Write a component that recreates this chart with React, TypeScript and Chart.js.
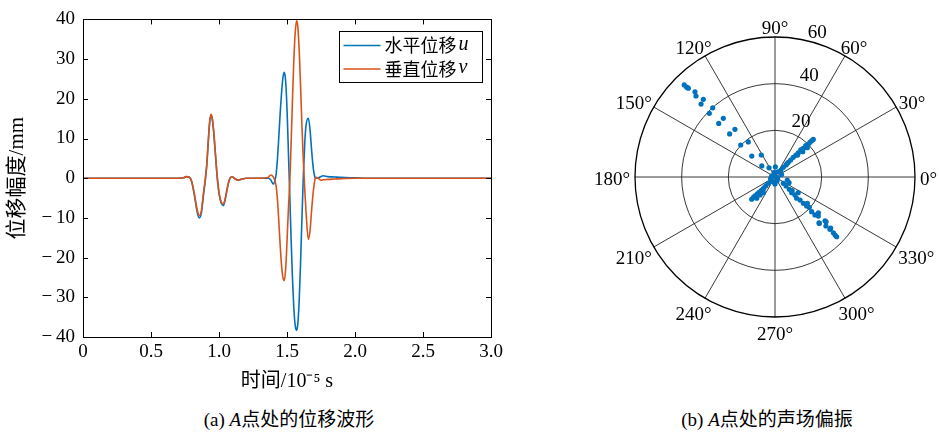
import React, { useEffect, useRef } from "react";
import { Chart, registerables } from "chart.js";
Chart.register(...registerables);

// ---------- data: left panel (displacement waveforms) ----------
const timeValues = [
  0, 0.5, 0.7, 0.74, 0.76, 0.78, 0.8, 0.82, 0.84, 0.855, 0.87, 0.885, 0.9, 0.91, 0.92, 0.93, 0.941, 0.95, 0.96,
  0.97, 0.98, 0.99, 1.0, 1.015, 1.032, 1.045, 1.06, 1.075, 1.09, 1.1, 1.12, 1.14, 1.16, 1.2, 1.3, 1.36, 1.38,
  1.4, 1.41, 1.42, 1.43, 1.44, 1.45, 1.46, 1.47, 1.48, 1.49, 1.5, 1.51, 1.52, 1.53, 1.54, 1.55, 1.56, 1.571,
  1.58, 1.59, 1.6, 1.61, 1.62, 1.63, 1.64, 1.657, 1.67, 1.68, 1.69, 1.7, 1.71, 1.73, 1.75, 1.765, 1.8, 1.85,
  1.9, 2.0, 2.1, 3.0,
];
const horizontalU = [
  0, 0, 0, 0.1, 0.4, 0.3, -1.0, -4.5, -8.6, -10.0, -8.8, -4.5, -0.3, 3.2, 8.5, 13.5, 16.0, 15.0, 12.0,
  7.6, 3.0, -1.0, -3.8, -6.2, -6.9, -5.5, -2.8, -0.5, 0.3, 0.3, -0.2, -0.5, -0.3, 0, 0, 0.0, -0.4,
  -1.5, -0.8, 1.0, 5.0, 10.5, 16.5, 21.5, 25.3, 26.7, 24.5, 17.5, 7.0, -4.0, -15.0, -25.0, -32.5, -37.0, -38.3,
  -36.5, -30.5, -21.0, -10.0, 0.5, 8.5, 13.3, 15.1, 12.0, 7.5, 3.5, 1.0, 0.0, 0.1, 0.4, 0.6, 0.4, 0.3,
  0.2, 0.1, 0, 0,
];
const verticalV = [
  0, 0, 0, 0.1, 0.4, 0.3, -0.9, -4.2, -8.0, -9.4, -8.3, -4.0, 0.1, 3.5, 8.8, 13.7, 16.1, 15.2, 12.3,
  8.0, 3.4, -0.6, -3.5, -5.9, -6.5, -5.2, -2.6, -0.5, 0.3, 0.3, -0.2, -0.5, -0.3, 0, 0, 0.2, 0.8,
  0.3, -0.5, -2.0, -5.5, -11.0, -17.0, -22.0, -25.0, -25.8, -23.0, -16.0, -8.0, -1.5, 8.5, 19.5, 29.5, 36.5, 39.7,
  38.0, 32.0, 23.0, 13.0, 4.5, -2.5, -8.5, -15.4, -13.0, -8.5, -4.5, -1.5, 0.2, 0.0, -0.5, -0.4, -0.3, -0.2,
  -0.1, 0, 0, 0,
];
const xTickValues = [0, 0.5, 1.0, 1.5, 2.0, 2.5, 3.0];
const yTickValues = [-40, -30, -20, -10, 0, 10, 20, 30, 40];
const seriesNames = ["水平位移", "垂直位移"];
const seriesSymbols = ["u", "v"];

// ---------- data: right panel (polarization, polar scatter) ----------
const polarAnglesDeg = [
  134.6, 134.5, 134.3, 133.2, 134.3, 132.7, 135.4, 132.0, 135.9, 131.4, 136.4, 130.0, 136.5, 127.3, 137.0, 121.9, 138.0, 140.0, 123.0, 88.0,
  44.5, 44.7, 44.8, 44.7, 45.6, 45.4, 46.4, 46.2, 46.3, 47.1, 47.3, 47.9, 47.5, 49.4, 49.4, 42.2, 42.4, 44.1, 48.1,
  -44.1, -44.0, -43.7, -42.6, -43.6, -43.9, -41.2, -41.2, -46.3, -46.1, -42.0, -39.5, -43.5, -43.4, -41.5, -42.5, -39.2, -42.9, -42.6, -44.5, -34.0, -42.0, -43.2, -38.4, -40.8, -39.3, -22.0, -37.2, -13.7,
  223.7, 223.1, 223.5, 223.8, 223.7, 224.3, 224.2, 224.0, 223.2, 225.0, 229.3, 230.2, 233.3, 226.0,
  0, 60, 100, 160, 200, 250, 300, 340, 20, 270,
];
const polarRadii = [
  55.4, 54.0, 53.2, 50.1, 48.5, 45.3, 44.5, 39.9, 39.2, 33.5, 33.3, 26.7, 26.8, 18.9, 20.1, 11.1, 13.4, 7.4, 4.7, 4.4,
  23.0, 22.1, 21.1, 20.1, 18.8, 17.3, 16.0, 14.4, 13.0, 11.5, 9.9, 8.5, 7.0, 5.5, 3.9, 18.7, 16.1, 13.5, 7.9,
  36.8, 35.8, 34.6, 32.4, 32.5, 30.3, 29.1, 28.5, 27.5, 27.2, 25.0, 24.1, 23.6, 21.6, 19.6, 18.4, 17.9, 16.6, 14.6, 13.0, 12.0, 11.5, 9.8, 9.4, 8.1, 6.1, 6.5, 4.5, 5.4,
  13.8, 12.7, 11.8, 10.5, 9.3, 8.0, 6.6, 5.4, 3.9, 2.6, 12.0, 10.0, 8.4, 7.2,
  0.5, 2.5, 2.0, 1.5, 2.0, 2.2, 1.8, 1.2, 3.0, 3.0,
];
const ringValues = [20, 40, 60];
const spokeAnglesDeg = [0, 30, 60, 90, 120, 150, 180, 210, 240, 270, 300, 330];
const radialMax = 60;

const BLUE = "#0072BD";
const RED = "#D95319";
const LATIN = "'Liberation Serif', 'Times New Roman', serif";
const SERIF = "'Liberation Serif', 'Times New Roman', 'Noto Sans CJK SC', serif";
const CJK = "'Noto Sans CJK SC', sans-serif";

const fmtY = (v: number) => (v < 0 ? "\u2212\u2009" + Math.abs(v) : String(v));
const fmtX = (v: number) => (v === 0 ? "0" : v.toFixed(1));

const framePlugin = {
  id: "frameAndLegend",
  afterDraw(chart: any) {
    const { ctx, chartArea: ca, scales } = chart;
    ctx.save();
    ctx.strokeStyle = "#000";
    ctx.lineWidth = 1;
    ctx.strokeRect(Math.round(ca.left) + 0.5, Math.round(ca.top) + 0.5, Math.round(ca.right - ca.left), Math.round(ca.bottom - ca.top));
    const tl = 5;
    ctx.beginPath();
    xTickValues.forEach((v) => {
      const px = Math.round(scales.x.getPixelForValue(v)) + 0.5;
      ctx.moveTo(px, ca.bottom);
      ctx.lineTo(px, ca.bottom - tl);
      ctx.moveTo(px, ca.top);
      ctx.lineTo(px, ca.top + tl);
    });
    yTickValues.forEach((v) => {
      const py = Math.round(scales.y.getPixelForValue(v)) + 0.5;
      ctx.moveTo(ca.left, py);
      ctx.lineTo(ca.left + tl, py);
      ctx.moveTo(ca.right, py);
      ctx.lineTo(ca.right - tl, py);
    });
    ctx.stroke();

    // legend box
    const bw = 143, bh = 51;
    const bx = Math.round(ca.right - 9 - bw) + 0.5;
    const by = Math.round(ca.top + 12) + 0.5;
    ctx.fillStyle = "#fff";
    ctx.fillRect(bx, by, bw, bh);
    ctx.strokeStyle = "#000";
    ctx.strokeRect(bx, by, bw, bh);
    const colors = [BLUE, RED];
    seriesNames.forEach((name, i) => {
      const ry = by + 14 + i * 23.5;
      ctx.strokeStyle = colors[i];
      ctx.lineWidth = 1.5;
      ctx.beginPath();
      ctx.moveTo(bx + 4, ry);
      ctx.lineTo(bx + 41, ry);
      ctx.stroke();
      ctx.fillStyle = "#000";
      ctx.textBaseline = "middle";
      ctx.textAlign = "left";
      ctx.font = "18px " + CJK;
      ctx.fillText(name, bx + 45, ry);
      const w = ctx.measureText(name).width;
      ctx.font = "italic 20px " + LATIN;
      ctx.fillText(seriesSymbols[i], bx + 47 + w, ry - 1);
    });
    ctx.restore();
  },
};

const polarPlugin = {
  id: "polarGrid",
  beforeDatasetsDraw(chart: any) {
    const { ctx, scales } = chart;
    const cx = scales.x.getPixelForValue(0);
    const cy = scales.y.getPixelForValue(0);
    const R = scales.x.getPixelForValue(radialMax) - cx;
    ctx.save();
    ctx.strokeStyle = "#222";
    ctx.lineWidth = 0.9;
    ctx.beginPath();
    spokeAnglesDeg.forEach((a) => {
      const t = (a * Math.PI) / 180;
      ctx.moveTo(cx, cy);
      ctx.lineTo(cx + R * Math.cos(t), cy - R * Math.sin(t));
    });
    ctx.stroke();
    ringValues.forEach((rv) => {
      const r = scales.x.getPixelForValue(rv) - cx;
      ctx.lineWidth = rv === radialMax ? 1.3 : 0.9;
      ctx.strokeStyle = rv === radialMax ? "#000" : "#222";
      ctx.beginPath();
      ctx.arc(cx, cy, r, 0, Math.PI * 2);
      ctx.stroke();
    });
    ctx.restore();
  },
  afterDraw(chart: any) {
    const { ctx, scales } = chart;
    const cx = scales.x.getPixelForValue(0);
    const cy = scales.y.getPixelForValue(0);
    ctx.save();
    ctx.fillStyle = "#000";
    ctx.font = "19px " + LATIN;
    ctx.textAlign = "center";
    ctx.textBaseline = "middle";
    const RL = 145;
    const h = 12;
    spokeAnglesDeg.forEach((a) => {
      const t = (a * Math.PI) / 180;
      const txt = a + "\u00B0";
      const w = ctx.measureText(txt).width;
      const s = Math.sin(t);
      const px = cx + RL * Math.cos(t) + Math.cos(t) * (w / 2);
      const py = cy - RL * s - s * (h / 2) + 3 + (s < -0.1 ? 4 : 0);
      ctx.fillText(txt, px, py);
    });
    const lt = (80 * Math.PI) / 180;
    ringValues.forEach((rv) => {
      const r = scales.x.getPixelForValue(rv) - cx;
      ctx.fillText(String(rv), cx + r * Math.cos(lt) + 18, cy - r * Math.sin(lt) - (rv === radialMax ? 6 : 9));
    });
    ctx.restore();
  },
};

function WaveChart() {
  const ref = useRef<HTMLCanvasElement>(null);
  useEffect(() => {
    const mk = (vals: number[]) => timeValues.map((t, i) => ({ x: t, y: vals[i] }));
    const chart = new Chart(ref.current as HTMLCanvasElement, {
      type: "line",
      data: {
        datasets: [
          { label: seriesNames[0] + seriesSymbols[0], data: mk(horizontalU), borderColor: BLUE, borderWidth: 1.6, pointRadius: 0, cubicInterpolationMode: "monotone", order: 1 },
          { label: seriesNames[1] + seriesSymbols[1], data: mk(verticalV), borderColor: RED, borderWidth: 1.6, pointRadius: 0, cubicInterpolationMode: "monotone", order: 0 },
        ],
      },
      options: {
        animation: false,
        responsive: false,
        layout: { padding: { left: 0, top: 16, right: 29, bottom: 0 } },
        plugins: { legend: { display: false }, tooltip: { enabled: false } },
        scales: {
          x: {
            type: "linear",
            min: 0,
            max: 3,
            grid: { display: false, drawTicks: false },
            border: { display: false },
            afterBuildTicks: (s: any) => { s.ticks = xTickValues.map((v) => ({ value: v })); },
            afterFit: (s: any) => { s.height = 63; },
            ticks: { padding: 4, maxRotation: 0, autoSkip: false, color: "#000", font: { family: SERIF, size: 19 }, callback: (v: any) => fmtX(Number(v)) },
            title: { display: true, text: "时间/10⁻⁵ s", color: "#000", font: { family: SERIF, size: 20 }, padding: { top: 0, bottom: 6 } },
          },
          y: {
            min: -40,
            max: 40,
            grid: { display: false, drawTicks: false },
            border: { display: false },
            afterBuildTicks: (s: any) => { s.ticks = yTickValues.map((v) => ({ value: v })); },
            afterFit: (s: any) => { s.width = 83; },
            ticks: { padding: 8, autoSkip: false, color: "#000", font: { family: SERIF, size: 19 }, callback: (v: any) => fmtY(Number(v)) },
            title: { display: true, text: "位移幅度/mm", color: "#000", font: { family: SERIF, size: 21 }, padding: { top: 5, bottom: 0 } },
          },
        },
      } as any,
      plugins: [framePlugin],
    });
    return () => chart.destroy();
  }, []);
  return <canvas ref={ref} width={520} height={400} style={{ position: "absolute", left: 0, top: 0, width: 520, height: 400 }} />;
}

function PolarChart() {
  const ref = useRef<HTMLCanvasElement>(null);
  useEffect(() => {
    const pts = polarAnglesDeg.map((a, i) => {
      const t = (a * Math.PI) / 180;
      return { x: polarRadii[i] * Math.cos(t), y: polarRadii[i] * Math.sin(t) };
    });
    const chart = new Chart(ref.current as HTMLCanvasElement, {
      type: "scatter",
      data: {
        datasets: [{ data: pts, backgroundColor: BLUE, borderColor: BLUE, pointRadius: 2.6, borderWidth: 0 }],
      },
      options: {
        animation: false,
        responsive: false,
        layout: { padding: { left: 75, right: 24, top: 37, bottom: 83 } },
        plugins: { legend: { display: false }, tooltip: { enabled: false } },
        scales: {
          x: { type: "linear", min: -radialMax, max: radialMax, display: false },
          y: { type: "linear", min: -radialMax, max: radialMax, display: false },
        },
      } as any,
      plugins: [polarPlugin],
    });
    return () => chart.destroy();
  }, []);
  return <canvas ref={ref} width={379} height={400} style={{ position: "absolute", left: 560, top: 0, width: 379, height: 400 }} />;
}

const captionStyle: React.CSSProperties = {
  position: "absolute",
  top: 409,
  textAlign: "center",
  fontFamily: SERIF,
  fontSize: 19,
  lineHeight: "22px",
  color: "#000",
  whiteSpace: "nowrap",
};

export default function App() {
  return (
    <div style={{ position: "absolute", left: 0, top: 0, width: 939, height: 432, background: "#fff", overflow: "hidden" }}>
      <WaveChart />
      <PolarChart />
      <div style={{ ...captionStyle, left: 0, width: 578 }}>
        (a) <i>A</i>点处的位移波形
      </div>
      <div style={{ ...captionStyle, left: 600, width: 334 }}>
        (b) <i>A</i>点处的声场偏振
      </div>
    </div>
  );
}
